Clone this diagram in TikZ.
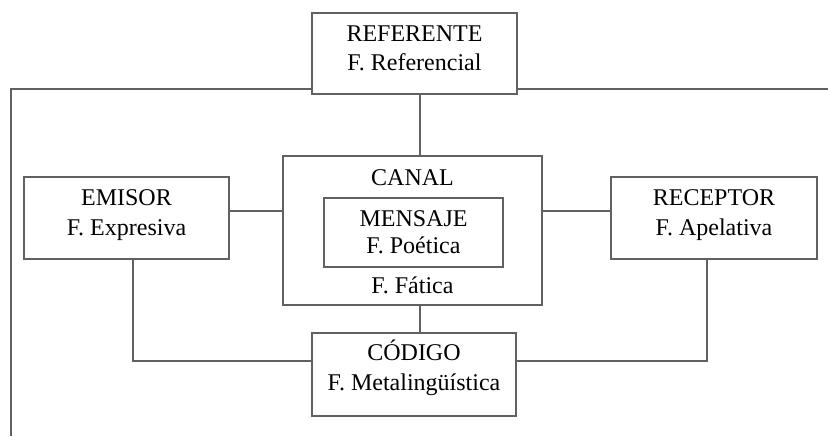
\documentclass[tikz,border=0pt]{standalone}
\usepackage{fontspec}
\setmainfont{Liberation Serif}
\definecolor{linegray}{gray}{0.38}
\tikzset{
  box/.style={draw=linegray,line width=0.6pt,inner sep=0pt},
  txt/.style={font=\fontsize{12}{14.5}\selectfont,inner sep=0pt,text height=10pt,text depth=2pt},
  link/.style={draw=linegray,line width=0.6pt}
}
\begin{document}
\begin{tikzpicture}[x=0.5pt,y=-0.5pt]
\useasboundingbox[fill=white](0,0) rectangle (828,436);
% boxes
\node[box,minimum width=102.5pt,minimum height=40.5pt](ref) at (414.5,53.5){};
\node[box,minimum width=129.5pt,minimum height=74.5pt](canal) at (412.5,230.5){};
\node[box,minimum width=89.5pt,minimum height=34.5pt](msg) at (413.5,232.5){};
\node[box,minimum width=102.5pt,minimum height=41pt](emisor) at (126.5,218){};
\node[box,minimum width=103pt,minimum height=41pt](receptor) at (714,218){};
\node[box,minimum width=102pt,minimum height=41.5pt](codigo) at (414,374.5){};
% texts
\node[txt](reft) at (414.5,33){REFERENTE};
\node[txt](reff) at (414.5,62){F. Referencial};
\node[txt](canalt) at (412.5,177){CANAL};
\node[txt](canalf) at (412.5,285){F. Fática};
\node[txt](msgt) at (413.5,218){MENSAJE};
\node[txt](msgf) at (413.5,245){F. Poética};
\node[txt](emisort) at (126.5,197){EMISOR};
\node[txt](emisorf) at (126.5,227){F. Expresiva};
\node[txt](receptort) at (714,197.5){RECEPTOR};
\node[txt](receptorf) at (714,227){F. Apelativa};
\node[txt](codigot) at (414,352){CÓDIGO};
\node[txt](codigof) at (414,382){F. Metalingüística};
% helper points
\coordinate (frameleft) at (11,89);
\coordinate (frameright) at (828,89);
\coordinate (framebottom) at (11,436);
\coordinate (midx) at (420,0);
\coordinate (sidey) at (0,211);
\coordinate (lowy) at (0,361);
\coordinate (emx) at (133,0);
\coordinate (recx) at (707,0);
% connectors
\draw[link](ref.west |- frameleft)--(frameleft)--(framebottom);
\draw[link](ref.east |- frameright)--(frameright);
\draw[link](ref.south -| midx)--(canal.north -| midx);
\draw[link](canal.south -| midx)--(codigo.north -| midx);
\draw[link](emisor.east |- sidey)--(canal.west |- sidey);
\draw[link](canal.east |- sidey)--(receptor.west |- sidey);
\draw[link](emisor.south -| emx)--(emx |- lowy)--(codigo.west |- lowy);
\draw[link](receptor.south -| recx)--(recx |- lowy)--(codigo.east |- lowy);
\end{tikzpicture}
\end{document}
